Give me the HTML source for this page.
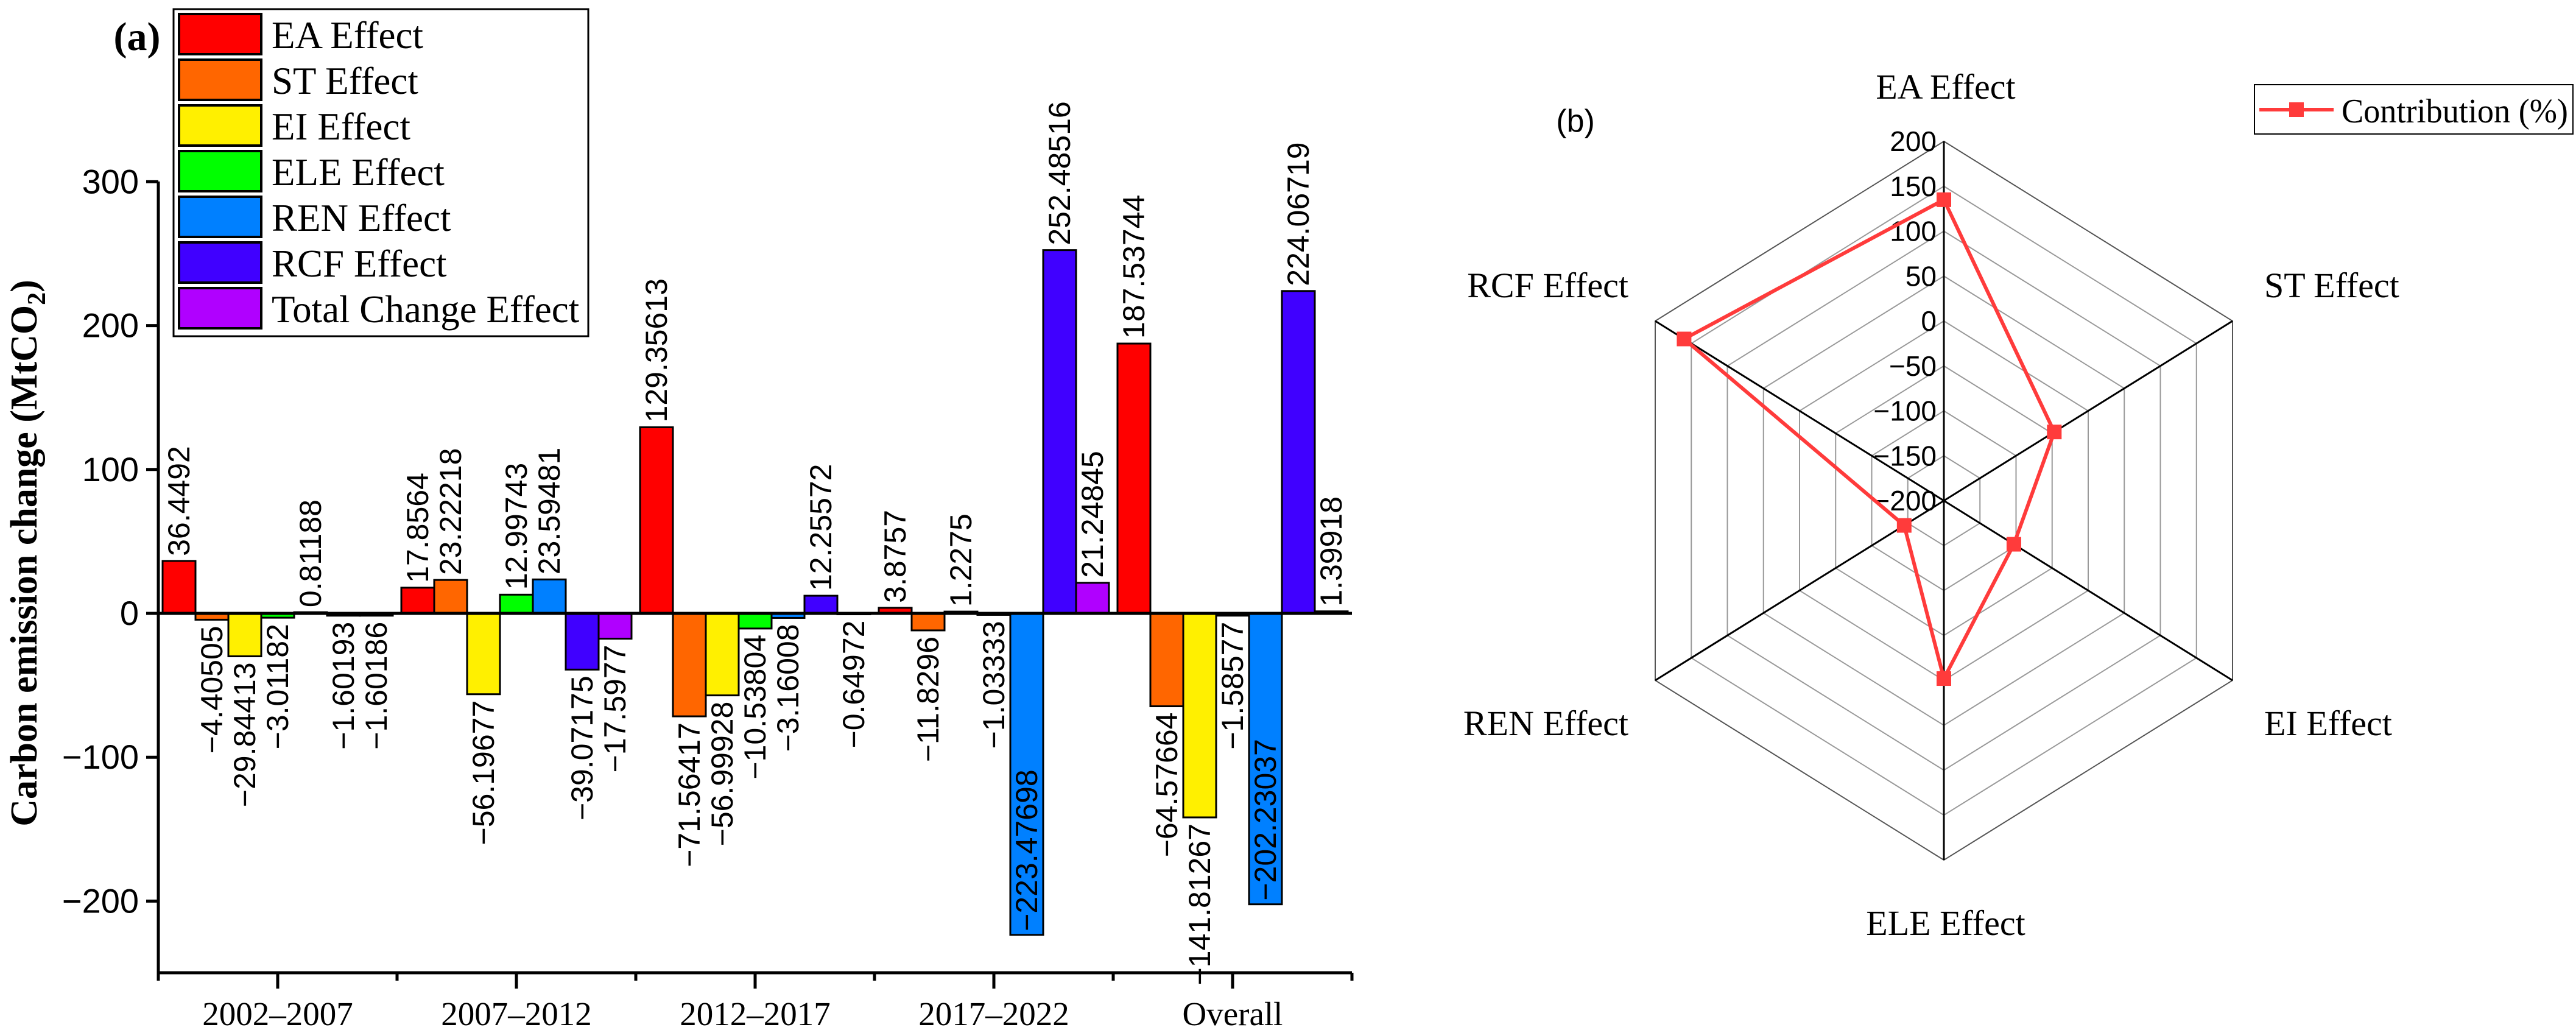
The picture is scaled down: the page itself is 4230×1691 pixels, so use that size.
<!DOCTYPE html>
<html><head><meta charset="utf-8"><style>
html,body{margin:0;padding:0;background:#fff;overflow:hidden}
svg{display:block}
.serif{font-family:"Liberation Serif",serif}
.sans{font-family:"Liberation Sans",sans-serif}
</style></head><body>
<svg id="chart" width="4230" height="1691" viewBox="0 0 4230 1691" xmlns="http://www.w3.org/2000/svg">
<g id="barChart"></g>
<g id="radarChart"></g>
</svg>
<script>
const categories = ["2002\u20132007","2007\u20132012","2012\u20132017","2017\u20132022","Overall"];
const seriesNames = ["EA Effect","ST Effect","EI Effect","ELE Effect","REN Effect","RCF Effect","Total Change Effect"];
const seriesColors = ["#ff0000","#ff6600","#fff000","#00ff00","#0080ff","#4000ff","#b000ff"];
const eaValues = [36.4492, 17.8564, 129.35613, 3.8757, 187.53744];
const stValues = [-4.40505, 23.22218, -71.56417, -11.8296, -64.57664];
const eiValues = [-29.84413, -56.19677, -56.99928, 1.2275, -141.81267];
const eleValues = [-3.01182, 12.99743, -10.53804, -1.03333, -1.58577];
const renValues = [0.81188, 23.59481, -3.16008, -223.47698, -202.23037];
const rcfValues = [-1.60193, -39.07175, 12.25572, 252.48516, 224.06719];
const totalValues = [-1.60186, -17.5977, -0.64972, 21.24845, 1.39918];
const yTicks = [-200, -100, 0, 100, 200, 300];
const yTickLabels = ["\u2212200","\u2212100","0","100","200","300"];
const barLabels = [
 ["36.4492","17.8564","129.35613","3.8757","187.53744"],
 ["\u22124.40505","23.22218","\u221271.56417","\u221211.8296","\u221264.57664"],
 ["\u221229.84413","\u221256.19677","\u221256.99928","1.2275","\u2212141.81267"],
 ["\u22123.01182","12.99743","\u221210.53804","\u22121.03333","\u22121.58577"],
 ["0.81188","23.59481","\u22123.16008","\u2212223.47698","\u2212202.23037"],
 ["\u22121.60193","\u221239.07175","12.25572","252.48516","224.06719"],
 ["\u22121.60186","\u221217.5977","\u22120.64972","21.24845","1.39918"]
];
const radarAxes = ["EA Effect","ST Effect","EI Effect","ELE Effect","REN Effect","RCF Effect"];
const radarValues = [135, -47, -103, -2, -145, 160];
const radarTicks = [-200,-150,-100,-50,0,50,100,150,200];
const radarTickLabels = ["\u2212200","\u2212150","\u2212100","\u221250","0","50","100","150","200"];

const NS="http://www.w3.org/2000/svg";
function mk(tag, attrs, parent, text){const e=document.createElementNS(NS,tag);for(const k in attrs)e.setAttribute(k,attrs[k]);if(text!==undefined)e.textContent=text;parent.appendChild(e);return e;}

// ---- Bar chart ----
const bc=document.getElementById('barChart');
const X0=260, GW=392, Y0zero=1007, PXU=2.362, YBOT=1597, YTOP=298;
const yScale=v=>Y0zero - v*PXU;
const xGroup=i=>X0+i*GW;
const BW=54, BOFF=7;
const allSeries=[eaValues,stValues,eiValues,eleValues,renValues,rcfValues,totalValues];

let t=mk('text',{x:225,y:82,'font-size':66,'font-weight':'bold','text-anchor':'middle',class:'serif'},bc,'(a)');



for(let s=0;s<allSeries.length;s++){
 for(let i=0;i<categories.length;i++){
  const v=allSeries[s][i];
  const x=xGroup(i)+BOFF+s*BW;
  const y1=yScale(Math.max(v,0)), y2=yScale(Math.min(v,0));
  const r=mk('rect',{x:x,y:y1,width:BW,height:Math.max(y2-y1,1),fill:seriesColors[s],stroke:'#000','stroke-width':3},bc);
  
  
  const cx=x+BW/2;
  let lab;
  if(v>=0){
   const ly=y1-8;
   lab=mk('text',{x:cx,y:ly,'font-size':50,'text-anchor':'start','dominant-baseline':'central',class:'sans',transform:`rotate(-90 ${cx} ${ly})`},bc,barLabels[s][i]);
  } else if(y2>1400){
   const ly=y2-6;
   lab=mk('text',{x:cx,y:ly,'font-size':50,'text-anchor':'start','dominant-baseline':'central',class:'sans',transform:`rotate(-90 ${cx} ${ly})`},bc,barLabels[s][i]);
  } else {
   const ly=y2+10;
   lab=mk('text',{x:cx,y:ly,'font-size':50,'text-anchor':'end','dominant-baseline':'central',class:'sans',transform:`rotate(-90 ${cx} ${ly})`},bc,barLabels[s][i]);
  }
  
  
 }
}
// axes
let ax=mk('line',{x1:X0,y1:YTOP,x2:X0,y2:YBOT+2,stroke:'#000','stroke-width':5},bc);


let xa=mk('line',{x1:X0-2,y1:YBOT,x2:xGroup(5),y2:YBOT,stroke:'#000','stroke-width':5},bc);


let zl=mk('line',{x1:X0,y1:Y0zero,x2:xGroup(5),y2:Y0zero,stroke:'#000','stroke-width':5},bc);


for(let k=0;k<yTicks.length;k++){
 const y=yScale(yTicks[k]);
 mk('line',{x1:X0-20,y1:y,x2:X0,y2:y,stroke:'#000','stroke-width':5},bc);
 const tl=mk('text',{x:X0-32,y:y+19,'font-size':56,'text-anchor':'end',class:'sans'},bc,yTickLabels[k]);
 
 
}
for(let k=0;k<=5;k++){
 mk('line',{x1:xGroup(k),y1:YBOT,x2:xGroup(k),y2:YBOT+13,stroke:'#000','stroke-width':5},bc);
}
for(let i=0;i<categories.length;i++){
 const cx=xGroup(i)+GW/2;
 mk('line',{x1:cx,y1:YBOT,x2:cx,y2:YBOT+26,stroke:'#000','stroke-width':5},bc);
 const xl=mk('text',{x:cx,y:1683,'font-size':55,'text-anchor':'middle',class:'serif'},bc,categories[i]);
 
 
}
let yt=mk('text',{x:0,y:0,'font-size':62,'font-weight':'bold','text-anchor':'middle',class:'serif',transform:'translate(60 908) rotate(-90)'},bc);


yt.appendChild(document.createTextNode('Carbon emission change (MtCO'));
mk('tspan',{'font-size':42,dy:14},yt,'2');
mk('tspan',{dy:-14},yt,')');
// legend
const lg=mk('g',{},bc);


mk('rect',{x:285,y:15,width:681,height:537,fill:'#fff',stroke:'#000','stroke-width':3},lg);
for(let s=0;s<seriesNames.length;s++){
 const y=23+s*75;
 const g=mk('g',{},lg);
 
 
 mk('rect',{x:294,y:y,width:135,height:66,fill:seriesColors[s],stroke:'#000','stroke-width':4},g);
 mk('text',{x:446,y:y+56,'font-size':63,class:'serif'},g,seriesNames[s]);
}

// ---- Radar chart ----
const rc=document.getElementById('radarChart');
const CX=3192, CY=822, R=590, SX=474/(R*Math.sin(Math.PI/3));
const rScale=v=>(v+200)/400*R;
function pt(axisIdx,v){const a=axisIdx*Math.PI/3;const r=rScale(v);return [CX+Math.sin(a)*r*SX, CY-Math.cos(a)*r];}
for(let k=1;k<radarTicks.length;k++){
 const pts=[];for(let j=0;j<6;j++)pts.push(pt(j,radarTicks[k]).join(','));
 const pg=mk('polygon',{points:pts.join(' '),fill:'none',stroke:k===radarTicks.length-1?'#555':'#999','stroke-width':2},rc);
 
 
}
for(let j=0;j<6;j++){
 const p=pt(j,200);
 const sp=mk('line',{x1:CX,y1:CY,x2:p[0],y2:p[1],stroke:'#000','stroke-width':3},rc);
 
 
}
for(let k=0;k<radarTicks.length;k++){
 const y=CY-rScale(radarTicks[k]);
 const tl=mk('text',{x:CX-12,y:y+16,'font-size':46,'text-anchor':'end',class:'sans'},rc,radarTickLabels[k]);
 
 
}
const rpts=radarValues.map((v,j)=>pt(j,v));
const poly=mk('polygon',{points:rpts.map(p=>p.join(',')).join(' '),fill:'none',stroke:'#ff3b3b','stroke-width':6},rc);


rpts.forEach(p=>{
 const m=mk('rect',{x:p[0]-12,y:p[1]-12,width:24,height:24,fill:'#ff3b3b'},rc);
 
 
});
const axLabelPos=[[3195,162,'middle'],[3718,488,'start'],[3718,1207,'start'],[3195,1535,'middle'],[2674,1207,'end'],[2674,488,'end']];
for(let j=0;j<6;j++){
 const l=mk('text',{x:axLabelPos[j][0],y:axLabelPos[j][1],'font-size':58,'text-anchor':axLabelPos[j][2],class:'serif'},rc,radarAxes[j]);
 
 
}
let pb=mk('text',{x:2587,y:216,'font-size':52,'text-anchor':'middle',class:'sans'},rc,'(b)');


const lb=mk('g',{},rc);


mk('rect',{x:3702,y:139,width:523,height:81,fill:'#fff',stroke:'#000','stroke-width':2},lb);
mk('line',{x1:3710,y1:180,x2:3832,y2:180,stroke:'#ff3b3b','stroke-width':6},lb);
mk('rect',{x:3759,y:168,width:24,height:24,fill:'#ff3b3b'},lb);
mk('text',{x:3845,y:201,'font-size':56,class:'serif',textLength:372,lengthAdjust:'spacingAndGlyphs'},lb,'Contribution (%)');
</script>
</body></html>
